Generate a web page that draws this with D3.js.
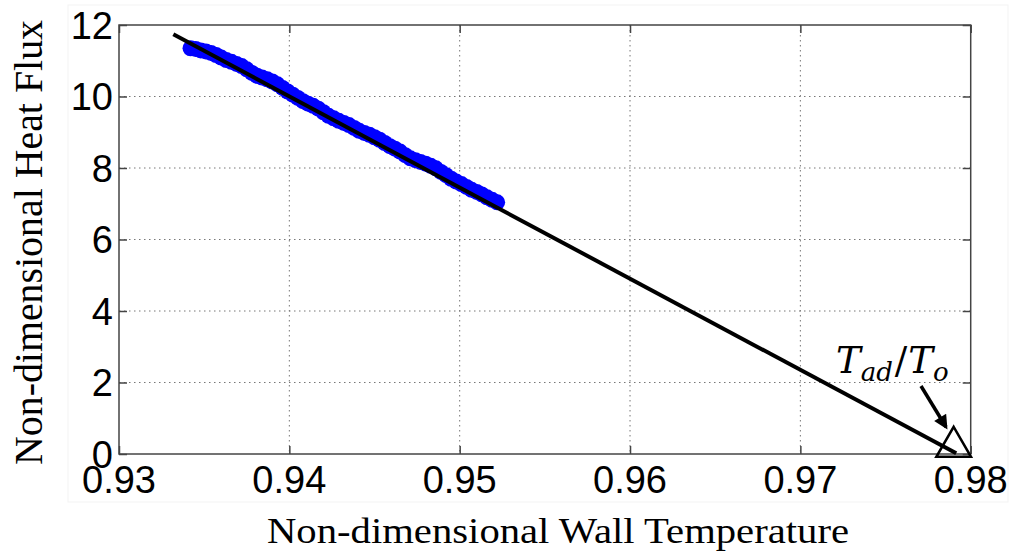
<!DOCTYPE html>
<html>
<head>
<meta charset="utf-8">
<script src="https://cdn.jsdelivr.net/npm/d3@7"></script>
<style>
  body { margin: 0; background: #fff; }
  .tick-label { font-family: "Liberation Sans", Arial, sans-serif; font-size: 38px; fill: #000; }
  .axis-label { font-family: "Liberation Serif", "Times New Roman", serif; fill: #000; }
</style>
</head>
<body>
<div id="chart-area"></div>
<script>
// measured data (blue cloud)
const wallTemp = [0.9342, 0.9345, 0.9348, 0.9351, 0.9354, 0.9357, 0.9360, 0.9363, 0.9366, 0.9369,
    0.9372, 0.9375, 0.9378, 0.9381, 0.9384, 0.9387, 0.9390, 0.9393, 0.9396, 0.9399,
    0.9402, 0.9405, 0.9408, 0.9411, 0.9414, 0.9417, 0.9420, 0.9423, 0.9426, 0.9429,
    0.9432, 0.9435, 0.9438, 0.9441, 0.9444, 0.9447, 0.9450, 0.9453, 0.9456, 0.9459,
    0.9462, 0.9465, 0.9468, 0.9471, 0.9474, 0.9477, 0.9480, 0.9483, 0.9486, 0.9489,
    0.9492, 0.9495, 0.9498, 0.9501, 0.9504, 0.9507, 0.9510, 0.9513, 0.9516, 0.9519, 0.9522];
const heatFlux = [11.35, 11.33, 11.29, 11.26, 11.22, 11.16, 11.09, 11.02, 10.97, 10.91,
    10.85, 10.76, 10.66, 10.58, 10.53, 10.48, 10.42, 10.34, 10.24, 10.14,
    10.05, 9.96, 9.87, 9.80, 9.74, 9.66, 9.56, 9.46, 9.39, 9.32,
    9.26, 9.20, 9.12, 9.04, 8.98, 8.93, 8.86, 8.79, 8.70, 8.61,
    8.54, 8.46, 8.36, 8.27, 8.22, 8.17, 8.12, 8.06, 7.99, 7.89,
    7.80, 7.70, 7.62, 7.55, 7.47, 7.39, 7.33, 7.26, 7.18, 7.11, 7.04];

// linear fit (end points)
const fitX = [0.93319, 0.97915];
const fitY = [11.74, 0.02];

// adiabatic wall temperature marker
const adiabatic = {x: 0.9790, y: 0.2};

const xTicks = [0.93, 0.94, 0.95, 0.96, 0.97, 0.98];
const yTicks = [0, 2, 4, 6, 8, 10, 12];

let margin = {top: 25, right: 1016 - 970.7, bottom: 555 - 454, left: 119};
let width = 1016 - margin.left - margin.right,
    height = 555 - margin.top - margin.bottom;

let root = d3.select("#chart-area").append("svg")
    .attr("width", 1016)
    .attr("height", 555);

// faint frame of the original figure
root.append("rect")
    .attr("x", 68).attr("y", 5)
    .attr("width", 940).attr("height", 497)
    .attr("fill", "none")
    .attr("stroke", "#f3f3f3");

let svg = root.append("g")
    .attr("transform", "translate(" + margin.left + "," + margin.top + ")");

let x = d3.scaleLinear().domain([0.93, 0.98]).range([0, width]);
let y = d3.scaleLinear().domain([0, 12]).range([height, 0]);

// grid
svg.append("g")
    .selectAll("line")
    .data(xTicks.slice(1, -1))
    .enter().append("line")
    .attr("x1", d => x(d)).attr("x2", d => x(d))
    .attr("y1", 0).attr("y2", height)
    .attr("stroke", "#777")
    .attr("stroke-width", 1)
    .attr("stroke-dasharray", "1.5,3.5");

svg.append("g")
    .selectAll("line")
    .data(yTicks.slice(1, -1))
    .enter().append("line")
    .attr("y1", d => y(d)).attr("y2", d => y(d))
    .attr("x1", 0).attr("x2", width)
    .attr("stroke", "#777")
    .attr("stroke-width", 1)
    .attr("stroke-dasharray", "1.5,3.5");

// axes (ticks inward, on all four sides)
let tickLen = 8;
let axisStyle = g => {
    g.select(".domain").remove();
    g.selectAll(".tick line").attr("stroke", "#444").attr("stroke-width", 1.5);
    g.selectAll(".tick text").remove();
};
svg.append("g").attr("transform", "translate(0," + height + ")")
    .call(d3.axisBottom(x).tickValues(xTicks).tickSizeInner(-tickLen).tickSizeOuter(0)).call(axisStyle);
svg.append("g")
    .call(d3.axisTop(x).tickValues(xTicks).tickSizeInner(-tickLen).tickSizeOuter(0)).call(axisStyle);
svg.append("g")
    .call(d3.axisLeft(y).tickValues(yTicks).tickSizeInner(-tickLen).tickSizeOuter(0)).call(axisStyle);
svg.append("g").attr("transform", "translate(" + width + ",0)")
    .call(d3.axisRight(y).tickValues(yTicks).tickSizeInner(-tickLen).tickSizeOuter(0)).call(axisStyle);

svg.append("rect")
    .attr("width", width).attr("height", height)
    .attr("fill", "none")
    .attr("stroke", "#444")
    .attr("stroke-width", 1.5);

// tick labels
svg.selectAll(".xlab")
    .data(xTicks)
    .enter().append("text")
    .attr("class", "tick-label")
    .attr("x", d => x(d))
    .attr("y", height + 39)
    .attr("text-anchor", "middle")
    .text(d => d3.format(".2f")(d));

svg.selectAll(".ylab")
    .data(yTicks)
    .enter().append("text")
    .attr("class", "tick-label")
    .attr("x", -6)
    .attr("y", d => y(d))
    .attr("dy", "0.36em")
    .attr("text-anchor", "end")
    .text(d => d);

// blue measurements
svg.append("g")
    .selectAll("circle")
    .data(wallTemp.map((t, i) => ({t: t, q: heatFlux[i]})))
    .enter().append("circle")
    .attr("cx", d => x(d.t))
    .attr("cy", d => y(d.q))
    .attr("r", 8)
    .attr("fill", "#0000ff");

// fit line
svg.append("path")
    .datum(fitX.map((t, i) => [t, fitY[i]]))
    .attr("d", d3.line().x(d => x(d[0])).y(d => y(d[1])))
    .attr("stroke", "#000")
    .attr("stroke-width", 4)
    .attr("fill", "none");

// triangle marker
svg.append("path")
    .attr("d", d3.symbol().type(d3.symbolTriangle).size(520))
    .attr("transform", "translate(" + x(adiabatic.x) + "," + y(adiabatic.y) + ")")
    .attr("fill", "none")
    .attr("stroke", "#000")
    .attr("stroke-width", 2.5);

// annotation arrow
root.append("defs").append("marker")
    .attr("id", "arrow")
    .attr("viewBox", "0 0 10 10")
    .attr("refX", 8).attr("refY", 5)
    .attr("markerWidth", 5).attr("markerHeight", 4)
    .attr("orient", "auto")
    .append("path")
    .attr("d", "M0,0 L10,5 L0,10 z")
    .attr("fill", "#000");

root.append("line")
    .attr("x1", 921).attr("y1", 386)
    .attr("x2", 946).attr("y2", 427)
    .attr("stroke", "#000")
    .attr("stroke-width", 3.5)
    .attr("marker-end", "url(#arrow)");

let ann = root.append("text")
    .attr("x", 836)
    .attr("y", 373)
    .style("font-family", "'DejaVu Serif', serif")
    .style("font-size", "37px")
    .style("font-style", "italic");
ann.append("tspan").text("T");
ann.append("tspan").attr("dy", 8).style("font-size", "26px").text("ad");
ann.append("tspan").attr("dy", -8).attr("dx", 2).style("font-style", "normal").text("/");
ann.append("tspan").attr("dx", 1).text("T");
ann.append("tspan").attr("dy", 8).style("font-size", "26px").text("o");

// axis titles
root.append("text")
    .attr("class", "axis-label")
    .attr("x", 267)
    .attr("y", 543)
    .style("font-size", "36px")
    .attr("textLength", 582)
    .attr("lengthAdjust", "spacingAndGlyphs")
    .text("Non-dimensional Wall Temperature");

root.append("text")
    .attr("class", "axis-label")
    .attr("transform", "translate(42,465) rotate(-90)")
    .style("font-size", "40px")
    .attr("textLength", 445)
    .attr("lengthAdjust", "spacingAndGlyphs")
    .text("Non-dimensional Heat Flux");
</script>
</body>
</html>
